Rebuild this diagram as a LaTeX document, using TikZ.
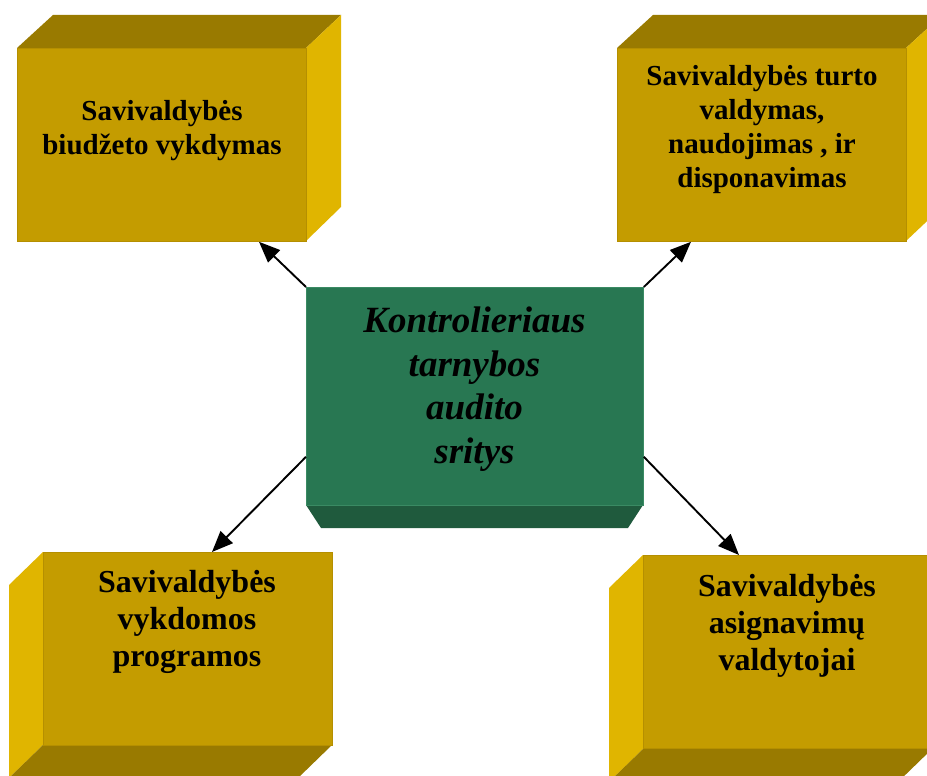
\documentclass[tikz,border=0pt]{standalone}
\usepackage{fontspec}
\setmainfont{Liberation Serif}
\usetikzlibrary{arrows.meta}
\definecolor{goldfront}{HTML}{C49C00}
\definecolor{goldtop}{HTML}{997A00}
\definecolor{goldside}{HTML}{E0B500}
\definecolor{goldedge}{HTML}{B58F00}
\definecolor{greenfront}{HTML}{287752}
\definecolor{greenbottom}{HTML}{1F5A3D}
\definecolor{greenedge}{HTML}{3A8A63}
\tikzset{
  goldface/.style={fill=goldfront, draw=goldedge, line width=0.8pt, rectangle, inner sep=0pt, anchor=north west, minimum width=289pt, minimum height=193pt},
  greenface/.style={fill=greenfront, draw=greenedge, line width=0.8pt, rectangle, inner sep=0pt, anchor=north west, minimum width=337pt, minimum height=218pt},
  toptext/.style={align=center, inner sep=0pt, anchor=north, font=\fontsize{29}{34}\selectfont\bfseries},
  bottext/.style={align=center, inner sep=0pt, anchor=north, font=\fontsize{32}{37}\selectfont\bfseries},
  centertext/.style={align=center, inner sep=0pt, anchor=north, font=\fontsize{37}{43.5}\selectfont\bfseries\itshape},
  link/.style={draw=black, line width=1.9pt, -{Triangle[length=21pt,width=17pt]}}
}
\begin{document}
\begin{tikzpicture}[x=1pt,y=-1pt]
\useasboundingbox (0,0) rectangle (927,776);
\fill[white] (0,0) rectangle (927,776);
% Box 1 (top-left)
\fill[goldtop] (17,48) -- (53,15) -- (341,15) -- (306,48) -- cycle;
\fill[goldside] (306,48) -- (341,15) -- (341,207) -- (306,241) -- cycle;
\node[goldface] (b1) at (17,48) {};
\node[toptext] (t1) at (162,100) {Savivaldybės\\biudžeto vykdymas};
% Box 2 (top-right)
\fill[goldtop] (617,48) -- (653,15) -- (942,15) -- (906,48) -- cycle;
\fill[goldside] (906,48) -- (942,15) -- (942,207) -- (906,241) -- cycle;
\node[goldface] (b2) at (617,48) {};
\node[toptext] (t2) at (762,65) {Savivaldybės turto\\valdymas,\\naudojimas , ir\\disponavimas};
% Box 3 (bottom-left)
\fill[goldside] (43,552) -- (9,585) -- (9,778) -- (43,745) -- cycle;
\fill[goldtop] (43,745) -- (332,745) -- (298,778) -- (9,778) -- cycle;
\node[goldface] (b3) at (43,552) {};
\node[bottext] (t3) at (187,570) {Savivaldybės\\vykdomos\\programos};
% Box 4 (bottom-right)
\fill[goldside] (643,555) -- (609,588) -- (609,782) -- (643,749) -- cycle;
\fill[goldtop] (643,749) -- (932,749) -- (898,782) -- (609,782) -- cycle;
\node[goldface] (b4) at (643,555) {};
\node[bottext] (t4) at (787,574) {Savivaldybės\\asignavimų\\valdytojai};
% Center box
\fill[greenbottom] (306,505) -- (643,505) -- (628,528) -- (321,528) -- cycle;
\node[greenface] (c) at (306,287) {};
\node[centertext] (tc) at (474.5,307) {Kontrolieriaus\\tarnybos\\audito\\sritys};
% Connectors
\draw[link] (c.north west) -- ([xshift=242pt]b1.south west);
\draw[link] (c.north east) -- ([xshift=74pt]b2.south west);
\draw[link] ([yshift=49pt]c.south west) -- ([xshift=169pt]b3.north west);
\draw[link] ([yshift=49pt]c.south east) -- ([xshift=96pt]b4.north west);
\end{tikzpicture}
\end{document}
